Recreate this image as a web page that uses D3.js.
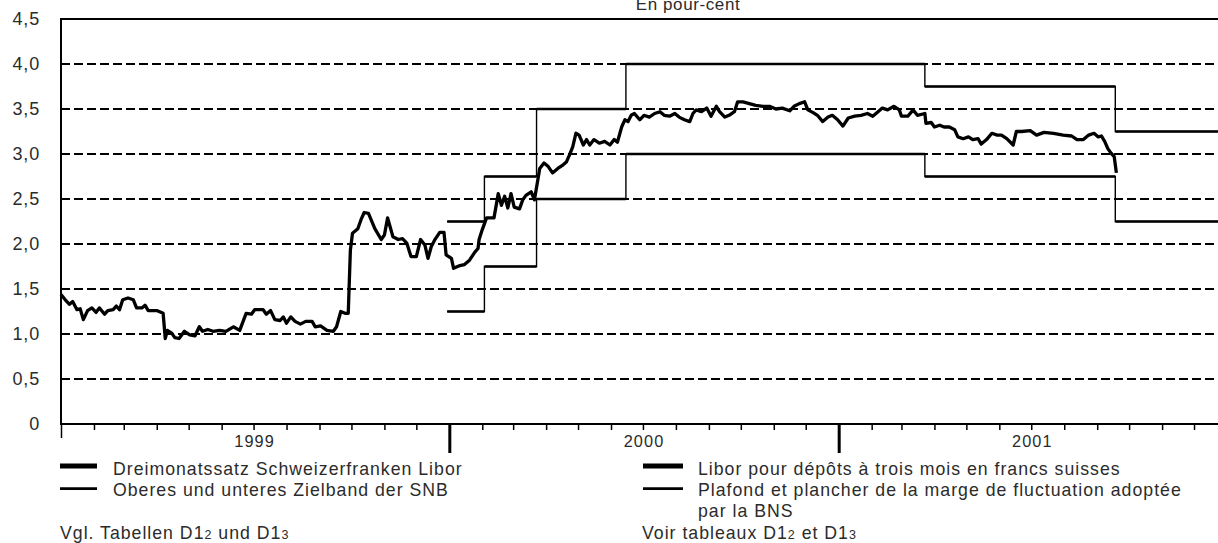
<!DOCTYPE html>
<html>
<head>
<meta charset="utf-8">
<script src="https://cdn.jsdelivr.net/npm/d3@7"></script>
<style>
  html, body { margin: 0; padding: 0; background: #fff; }
  svg { display: block; font-family: "Liberation Sans", Arial, sans-serif; }
</style>
</head>
<body>
<div id="chart"></div>
<script>
// Valeurs
const yTicks = [0, 0.5, 1, 1.5, 2, 2.5, 3, 3.5, 4, 4.5];
const yearLabels = ["1999", "2000", "2001"];

// Zielband der SNB (marge de fluctuation)
const bandDates = ["1999-12-30", "2000-02-03", "2000-03-23", "2000-06-15", "2001-03-23", "2001-09-18", "2002-01-01"];
const bandUpper = [2.25, 2.75, 3.5, 4.0, 3.75, 3.25, 3.25];
const bandLower = [1.25, 1.75, 2.5, 3.0, 2.75, 2.25, 2.25];

// Libor 3 mois CHF
const liborDates = [
  "1999-01-01","1999-01-05","1999-01-09","1999-01-12","1999-01-16","1999-01-19","1999-01-22","1999-01-26","1999-01-30","1999-02-03",
  "1999-02-06","1999-02-11","1999-02-14","1999-02-19","1999-02-22","1999-02-25","1999-02-28","1999-03-05","1999-03-10","1999-03-13",
  "1999-03-18","1999-03-21","1999-03-24","1999-04-01","1999-04-07","1999-04-09","1999-04-11","1999-04-15","1999-04-18","1999-04-22",
  "1999-04-27","1999-05-02","1999-05-07","1999-05-11","1999-05-14","1999-05-19","1999-05-24","1999-05-30","1999-06-05","1999-06-12",
  "1999-06-18","1999-06-24","1999-06-29","1999-07-02","1999-07-10","1999-07-13","1999-07-17","1999-07-21","1999-07-26","1999-07-29",
  "1999-08-01","1999-08-05","1999-08-09","1999-08-14","1999-08-19","1999-08-25","1999-08-28","1999-09-02","1999-09-08","1999-09-14",
  "1999-09-17","1999-09-21","1999-09-25","1999-09-28","1999-09-30","1999-10-02","1999-10-07","1999-10-10","1999-10-13","1999-10-17",
  "1999-10-23","1999-10-29","1999-11-01","1999-11-04","1999-11-09","1999-11-14","1999-11-18","1999-11-22","1999-11-26","1999-12-01",
  "1999-12-05","1999-12-09","1999-12-12","1999-12-15","1999-12-18","1999-12-23","1999-12-27","1999-12-29","2000-01-03","2000-01-05",
  "2000-01-11","2000-01-15","2000-01-20","2000-01-25","2000-01-28","2000-01-29","2000-02-01","2000-02-05","2000-02-12","2000-02-16",
  "2000-02-19","2000-02-22","2000-02-25","2000-02-28","2000-03-02","2000-03-07","2000-03-10","2000-03-13","2000-03-18","2000-03-21",
  "2000-03-26","2000-03-30","2000-04-03","2000-04-07","2000-04-12","2000-04-17","2000-04-20","2000-04-23","2000-04-26","2000-04-29",
  "2000-05-02","2000-05-06","2000-05-09","2000-05-12","2000-05-16","2000-05-21","2000-05-26","2000-05-31","2000-06-04","2000-06-07",
  "2000-06-11","2000-06-14","2000-06-17","2000-06-20","2000-06-23","2000-06-28","2000-07-02","2000-07-07","2000-07-12","2000-07-17",
  "2000-07-21","2000-07-26","2000-07-31","2000-08-04","2000-08-09","2000-08-14","2000-08-17","2000-08-20","2000-08-25","2000-08-30",
  "2000-09-03","2000-09-08","2000-09-11","2000-09-16","2000-09-20","2000-09-25","2000-09-28","2000-10-03","2000-10-09","2000-10-15",
  "2000-10-22","2000-10-28","2000-11-03","2000-11-09","2000-11-16","2000-11-20","2000-11-25","2000-11-30","2000-12-03","2000-12-08",
  "2000-12-12","2000-12-17","2000-12-22","2000-12-26","2000-12-31","2001-01-05","2001-01-10","2001-01-16","2001-01-22","2001-01-28",
  "2001-02-02","2001-02-07","2001-02-11","2001-02-16","2001-02-22","2001-02-27","2001-03-01","2001-03-07","2001-03-12","2001-03-16",
  "2001-03-23","2001-03-24","2001-03-29","2001-04-01","2001-04-06","2001-04-10","2001-04-15","2001-04-20","2001-04-23","2001-04-28",
  "2001-05-03","2001-05-07","2001-05-12","2001-05-15","2001-05-20","2001-05-25","2001-05-30","2001-06-03","2001-06-08","2001-06-14",
  "2001-06-17","2001-06-22","2001-06-30","2001-07-06","2001-07-13","2001-07-22","2001-07-31","2001-08-08","2001-08-13","2001-08-19",
  "2001-08-24","2001-08-29","2001-09-02","2001-09-05","2001-09-08","2001-09-11","2001-09-14","2001-09-17","2001-09-19"
];
const liborValues = [
  1.44,1.38,1.33,1.36,1.27,1.28,1.16,1.26,1.29,1.24,
  1.29,1.22,1.26,1.27,1.31,1.27,1.38,1.40,1.38,1.29,
  1.29,1.32,1.26,1.26,1.23,0.95,1.04,1.01,0.96,0.95,
  1.03,0.99,0.98,1.08,1.03,1.05,1.03,1.04,1.03,1.08,
  1.04,1.23,1.22,1.27,1.27,1.22,1.26,1.16,1.15,1.19,
  1.12,1.19,1.14,1.11,1.14,1.14,1.08,1.09,1.04,1.03,
  1.08,1.25,1.23,1.23,1.93,2.12,2.17,2.27,2.35,2.34,
  2.17,2.05,2.10,2.29,2.08,2.05,2.06,2.01,1.86,1.86,
  2.05,1.99,1.84,1.97,2.04,2.13,2.13,1.88,1.84,1.73,
  1.76,1.77,1.82,1.91,1.95,2.05,2.16,2.29,2.29,2.56,
  2.43,2.53,2.40,2.56,2.41,2.39,2.49,2.54,2.58,2.49,
  2.84,2.90,2.86,2.79,2.84,2.88,2.91,2.99,3.08,3.23,
  3.21,3.10,3.16,3.10,3.16,3.12,3.14,3.10,3.16,3.13,
  3.30,3.38,3.36,3.43,3.45,3.38,3.43,3.41,3.45,3.47,
  3.43,3.42,3.45,3.41,3.38,3.36,3.45,3.49,3.47,3.51,
  3.42,3.53,3.47,3.41,3.43,3.47,3.58,3.58,3.56,3.54,
  3.53,3.53,3.50,3.51,3.48,3.53,3.56,3.58,3.49,3.46,
  3.43,3.36,3.41,3.43,3.38,3.31,3.40,3.42,3.43,3.45,
  3.42,3.47,3.51,3.49,3.53,3.49,3.42,3.42,3.49,3.43,
  3.45,3.34,3.35,3.30,3.32,3.30,3.30,3.27,3.19,3.17,
  3.19,3.16,3.17,3.11,3.16,3.23,3.21,3.21,3.17,3.10,
  3.25,3.25,3.26,3.21,3.24,3.23,3.21,3.20,3.16,3.16,
  3.21,3.23,3.19,3.20,3.14,3.06,3.01,2.97,2.79
];

const width = 1218;
const height = 543;
const plotLeft = 61, plotTop = 19, plotBottom = 424;
const textColor = "#2b2b2b";
const parse = d3.timeParse("%Y-%m-%d");

const x = d3.scaleTime()
  .domain([parse("1999-01-01"), parse("2002-01-01")])
  .range([plotLeft, 1227]);
const y = d3.scaleLinear().domain([0, 4.5]).range([plotBottom, plotTop]);

const svg = d3.select("#chart").append("svg")
  .attr("width", width)
  .attr("height", height);

// Titre (coupé en haut, comme l'original)
svg.append("text")
  .attr("x", 688).attr("y", 10)
  .attr("text-anchor", "middle")
  .attr("font-size", 17).attr("letter-spacing", 0.6)
  .attr("fill", textColor)
  .text("En pour-cent");

// Lignes de grille pointillées
svg.append("g").selectAll("line")
  .data(yTicks.filter(d => d > 0 && d < 4.5))
  .join("line")
  .attr("x1", plotLeft).attr("x2", width)
  .attr("y1", d => y(d)).attr("y2", d => y(d))
  .attr("stroke", "#000").attr("stroke-width", 2)
  .attr("stroke-dasharray", "9,4");

// Cadre : haut et gauche
svg.append("line").attr("x1", plotLeft - 1).attr("x2", width).attr("y1", y(4.5)).attr("y2", y(4.5))
  .attr("stroke", "#000").attr("stroke-width", 2);
svg.append("line").attr("x1", plotLeft).attr("x2", plotLeft).attr("y1", y(4.5)).attr("y2", y(0))
  .attr("stroke", "#000").attr("stroke-width", 2);

// Axe Y
const yAxis = svg.append("g")
  .attr("transform", `translate(${plotLeft},0)`)
  .call(d3.axisLeft(y)
    .tickValues(yTicks)
    .tickSize(0)
    .tickPadding(21)
    .tickFormat(d => d === 0 ? "0" : d.toFixed(1).replace(".", ",")));
yAxis.select(".domain").remove();
yAxis.selectAll("text")
  .attr("font-size", 18).attr("letter-spacing", 0.8)
  .attr("font-family", "Liberation Sans, Arial, sans-serif")
  .attr("fill", textColor).attr("dy", "0.3em");

// Axe X : mois
const months = d3.timeMonth.range(parse("1999-01-01"), parse("2002-01-01"));
const xAxis = svg.append("g")
  .attr("transform", `translate(0,${plotBottom})`)
  .call(d3.axisBottom(x).tickValues(months).tickSize(6).tickFormat(""));
xAxis.select(".domain")
  .attr("d", `M${plotLeft - 1},0H${width}`)
  .attr("stroke-width", 2);
xAxis.selectAll(".tick line")
  .attr("y2", d => d.getMonth() === 0 ? (d.getFullYear() === 1999 ? 14 : 29) : 6)
  .attr("stroke-width", d => d.getMonth() === 0 && d.getFullYear() > 1999 ? 3 : 1.5);

// Libellés des années
svg.append("g").selectAll("text")
  .data(yearLabels)
  .join("text")
  .attr("x", d => x(parse(d + "-07-02")))
  .attr("y", 447)
  .attr("text-anchor", "middle")
  .attr("font-size", 16.3).attr("letter-spacing", 1.1)
  .attr("fill", textColor)
  .text(d => d);

// Zielband : marches
const band = bandDates.map((d, i) => ({date: parse(d), upper: bandUpper[i], lower: bandLower[i]}));
["upper", "lower"].forEach(k => {
  svg.append("path")
    .datum(band)
    .attr("fill", "none")
    .attr("stroke", "#000")
    .attr("stroke-width", 1.4)
    .attr("d", d3.line().x(d => x(d.date)).y(d => y(d[k])).curve(d3.curveStepAfter));
  svg.append("g").selectAll("line")
    .data(band.slice(0, -1))
    .join("line")
    .attr("x1", d => x(d.date))
    .attr("x2", (d, i) => x(band[i + 1].date))
    .attr("y1", d => y(d[k])).attr("y2", d => y(d[k]))
    .attr("stroke", "#000").attr("stroke-width", 2.7);
});

// Libor
const libor = liborDates.map((d, i) => ({date: parse(d), value: liborValues[i]}));
svg.append("path")
  .datum(libor)
  .attr("fill", "none")
  .attr("stroke", "#000")
  .attr("stroke-width", 3.3)
  .attr("stroke-linejoin", "round")
  .attr("d", d3.line().x(d => x(d.date)).y(d => y(d.value)));

// Légende
const legendRows = [
  {x: 60, w: 37, text: "Dreimonatssatz Schweizerfranken Libor", thick: true, y: 475},
  {x: 60, w: 37, text: "Oberes und unteres Zielband der SNB", thick: false, y: 496},
  {x: 643, w: 40, text: "Libor pour dépôts à trois mois en francs suisses", thick: true, y: 475},
  {x: 643, w: 40, text: "Plafond et plancher de la marge de fluctuation adoptée", thick: false, y: 496}
];
const lg = svg.append("g").attr("fill", textColor).attr("font-size", 17.7).attr("letter-spacing", 1);
legendRows.forEach(r => {
  lg.append("line")
    .attr("x1", r.x).attr("x2", r.x + r.w)
    .attr("y1", r.y - (r.thick ? 9 : 7.3)).attr("y2", r.y - (r.thick ? 9 : 7.3))
    .attr("stroke", "#000").attr("stroke-width", r.thick ? 5 : 2.7);
  lg.append("text").attr("x", r.x === 60 ? 113 : 698).attr("y", r.y).text(r.text);
});
lg.append("text").attr("x", 698).attr("y", 517).text("par la BNS");

function sourceNote(xPos, parts) {
  const t = lg.append("text").attr("x", xPos).attr("y", 539);
  parts.forEach(p => t.append("tspan").attr("font-size", p[1] ? 12.5 : 17.7).text(p[0]));
}
sourceNote(60, [["Vgl. Tabellen D1", 0], ["2", 1], [" und D1", 0], ["3", 1]]);
sourceNote(642, [["Voir tableaux D1", 0], ["2", 1], [" et D1", 0], ["3", 1]]);
</script>
</body>
</html>
